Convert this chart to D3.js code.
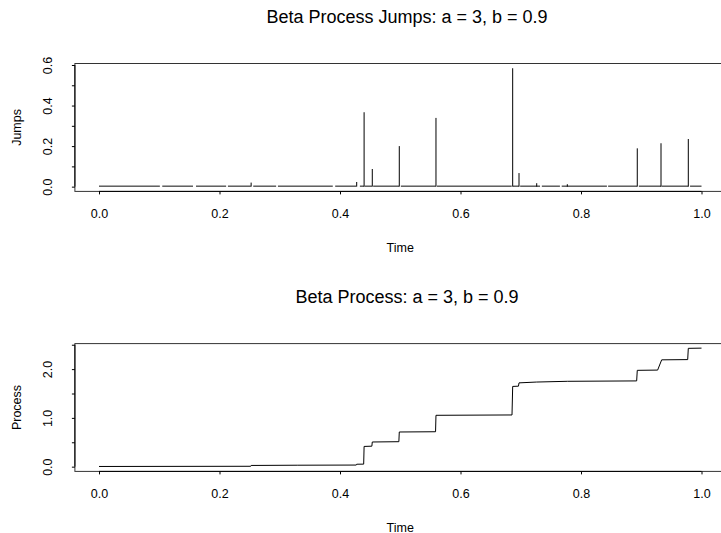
<!DOCTYPE html>
<html>
<head>
<meta charset="utf-8">
<script src="https://cdn.jsdelivr.net/npm/d3@7"></script>
<style>
  body { margin: 0; background: #fff; }
  svg { display: block; font-family: "Liberation Sans", Arial, sans-serif; }
</style>
</head>
<body>
<div id="layout"></div>
<script>
// jumps that stand out above the floor in the upper panel
var jumpTimes = [0.2525, 0.4277, 0.4400, 0.4536, 0.4984, 0.5593, 0.6866, 0.6971, 0.7265, 0.7773, 0.8934, 0.9328, 0.9781];
var jumpSizes = [0.020, 0.023, 0.367, 0.087, 0.200, 0.339, 0.584, 0.067, 0.017, 0.012, 0.189, 0.214, 0.235];

var tinyRunStarts = [0.000, 0.105, 0.161, 0.214, 0.256, 0.297, 0.392, 0.433, 0.441, 0.455, 0.501, 0.561, 0.687, 0.699, 0.735, 0.768, 0.845, 0.896, 0.934, 0.981];
var tinyRunEnds   = [0.101, 0.156, 0.211, 0.252, 0.294, 0.388, 0.427, 0.440, 0.453, 0.498, 0.559, 0.685, 0.697, 0.732, 0.765, 0.843, 0.893, 0.933, 0.978, 1.000];
var tinyJumpSize = 0.005;

// cumulative process (lower panel), vertices of the drawn line
var processTimes  = [0.0000, 0.2518, 0.2525, 0.3300, 0.4270, 0.4277, 0.4393, 0.4400, 0.4529, 0.4536, 0.4977, 0.4984, 0.5586, 0.5593, 0.6855, 0.6866, 0.6962, 0.6971, 0.7265, 0.7773, 0.8924, 0.8934, 0.9272, 0.9339, 0.9771, 0.9781, 1.0000];
var processValues = [0.004, 0.008, 0.025, 0.030, 0.033, 0.050, 0.052, 0.415, 0.420, 0.506, 0.512, 0.711, 0.716, 1.053, 1.060, 1.645, 1.650, 1.718, 1.735, 1.750, 1.758, 1.975, 1.980, 2.190, 2.195, 2.426, 2.430];

var timeTicks = [0, 0.2, 0.4, 0.6, 0.8, 1.0];
var jumpTicks = [0, 0.1, 0.2, 0.3, 0.4, 0.5, 0.6];
var jumpTickLabels = ["0.0", "", "0.2", "", "0.4", "", "0.6"];
var processTicks = [0, 0.5, 1.0, 1.5, 2.0, 2.5];
var processTickLabels = ["0.0", "", "1.0", "", "2.0", ""];

var outerWidth = 721,
    outerHeight = 533,
    axisFont = 12.5,
    titleFont = 18,
    titleX = 407;

var svg = d3.select("#layout")
            .append("svg")
            .attr("width", outerWidth)
            .attr("height", outerHeight);

svg.append("rect")
   .attr("width", outerWidth)
   .attr("height", outerHeight)
   .attr("fill", "#fff");

// R style: the plot region is the data range padded by 4% on each side
var xScale = d3.scaleLinear()
               .domain([-0.04, 1.04])
               .range([74.9, 725.6]);

drawPanel = (panel) => {
    const g = svg.append("g");
    const yScale = d3.scaleLinear()
                     .domain(panel.yDomain)
                     .range([panel.bottom, panel.top]);

    // marks first, frame on top
    panel.drawMarks(g, yScale);

    // box
    g.append("rect")
     .attr("x", xScale.range()[0])
     .attr("y", panel.top)
     .attr("width", xScale.range()[1] - xScale.range()[0])
     .attr("height", panel.bottom - panel.top)
     .attr("fill", "none")
     .attr("stroke", "#333")
     .attr("stroke-width", 1);

    // x axis
    const xAxis = d3.axisBottom(xScale)
                    .tickValues(timeTicks)
                    .tickFormat(d3.format(".1f"))
                    .tickSize(3)
                    .tickSizeOuter(0);

    const gx = g.append("g")
                .attr("transform", "translate(0," + panel.bottom + ")")
                .call(xAxis);
    gx.select(".domain").remove();
    gx.append("line")
      .attr("x1", xScale(0))
      .attr("x2", xScale(1))
      .attr("stroke", "#000");
    gx.selectAll("text")
      .attr("y", 22)
      .attr("dy", "0.35em")
      .attr("fill", "#000")
      .style("font-size", axisFont + "px");

    // y axis, labels parallel to the axis
    const yAxis = d3.axisLeft(yScale)
                    .tickValues(panel.yTicks)
                    .tickFormat((d, i) => panel.yLabels[i])
                    .tickSize(3)
                    .tickSizeOuter(0);

    const gy = g.append("g")
                .attr("transform", "translate(" + xScale.range()[0] + ",0)")
                .call(yAxis);
    gy.select(".domain").remove();
    gy.append("line")
      .attr("y1", yScale(panel.yTicks[0]))
      .attr("y2", yScale(panel.yAxisEnd))
      .attr("stroke", "#000");
    gy.selectAll("text")
      .attr("transform", "rotate(-90)")
      .attr("x", 0)
      .attr("y", -27)
      .attr("dy", "0.35em")
      .attr("text-anchor", "middle")
      .attr("fill", "#000")
      .style("font-size", axisFont + "px");

    const midX = (xScale.range()[0] + xScale.range()[1]) / 2;
    const midY = (panel.top + panel.bottom) / 2;

    g.append("text")
     .attr("x", titleX)
     .attr("y", panel.top - 47)
     .attr("dy", "0.35em")
     .attr("text-anchor", "middle")
     .style("font-size", titleFont + "px")
     .text(panel.title);

    g.append("text")
     .attr("x", midX)
     .attr("y", panel.bottom + 56)
     .attr("dy", "0.35em")
     .attr("text-anchor", "middle")
     .style("font-size", axisFont + "px")
     .text("Time");

    g.append("text")
     .attr("transform", "translate(17," + midY + ") rotate(-90)")
     .attr("dy", "0.35em")
     .attr("text-anchor", "middle")
     .style("font-size", axisFont + "px")
     .text(panel.yTitle);
}

// upper panel: jumps drawn as vertical lines
drawPanel({
    top: 63.5,
    bottom: 191.4,
    yDomain: [-0.0234, 0.6074],
    yTicks: jumpTicks,
    yLabels: jumpTickLabels,
    yAxisEnd: 0.6,
    title: "Beta Process Jumps: a = 3, b = 0.9",
    yTitle: "Jumps",
    drawMarks: (g, yScale) => {
        g.selectAll(".floor")
         .data(tinyRunStarts)
         .enter()
         .append("rect")
         .attr("class", "floor")
         .attr("x", (d) => xScale(d))
         .attr("width", (d, i) => xScale(tinyRunEnds[i]) - xScale(d))
         .attr("y", yScale(tinyJumpSize))
         .attr("height", yScale(0) - yScale(tinyJumpSize))
         .attr("fill", "#111");

        g.selectAll(".jump")
         .data(jumpTimes)
         .enter()
         .append("line")
         .attr("class", "jump")
         .attr("x1", (d) => xScale(d))
         .attr("x2", (d) => xScale(d))
         .attr("y1", yScale(0))
         .attr("y2", (d, i) => yScale(jumpSizes[i]))
         .attr("stroke", "#000")
         .attr("stroke-width", 1);
    }
});

// lower panel: the running sum of the jumps
drawPanel({
    top: 343.6,
    bottom: 471.4,
    yDomain: [-0.097, 2.523],
    yTicks: processTicks,
    yLabels: processTickLabels,
    yAxisEnd: 2.5,
    title: "Beta Process: a = 3, b = 0.9",
    yTitle: "Process",
    drawMarks: (g, yScale) => {
        const line = d3.line()
                       .x((d) => xScale(processTimes[d]))
                       .y((d) => yScale(processValues[d]));

        g.append("path")
         .datum(d3.range(processTimes.length))
         .attr("d", line)
         .attr("fill", "none")
         .attr("stroke", "#000")
         .attr("stroke-width", 1);
    }
});
</script>
</body>
</html>
